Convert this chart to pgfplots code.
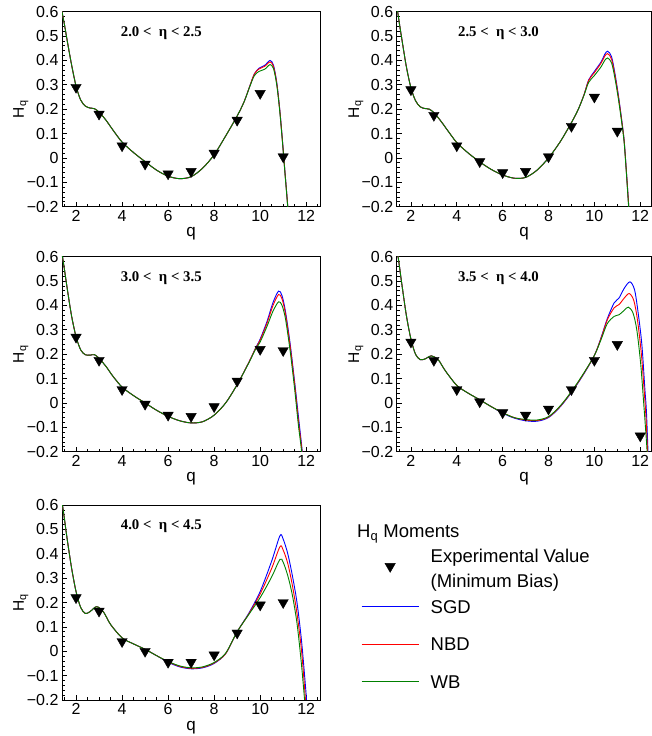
\documentclass[border=0pt]{standalone}
\usepackage{fontspec}
\setmainfont{Liberation Sans}
\newfontfamily\tnr{Liberation Serif}
\usepackage{pgfplots}
\pgfplotsset{compat=1.18}
\definecolor{sgd}{RGB}{0,0,255}
\definecolor{nbd}{RGB}{255,0,0}
\definecolor{wb}{RGB}{0,128,0}
\tikzset{ttl/.style={anchor=base west, inner sep=0pt, font=\tnr\bfseries\fontsize{14.8}{18}\selectfont}}
\pgfplotsset{
  panel/.style={
    scale only axis, width=258pt, height=195pt, anchor=south west,
    xmin=1.39, xmax=12.6, ymin=-0.2, ymax=0.6,
    xtick={2,4,6,8,10,12}, xticklabels={2,4,6,8,10,12},
    ytick={-0.2,-0.1,0,0.1,0.2,0.3,0.4,0.5,0.6},
    yticklabels={−0.2,−0.1,0,0.1,0.2,0.3,0.4,0.5,0.6},
    minor xtick={1.5,2.5,3,3.5,4.5,5,5.5,6.5,7,7.5,8.5,9,9.5,10.5,11,11.5,12.5},
    minor y tick num=4,
    xtick pos=left, ytick pos=left, tick align=inside,
    major tick length=5pt, minor tick length=3pt,
    every tick/.style={black, line width=0.7pt},
    axis line style={black, line width=0.9pt},
    tick label style={font=\fontsize{16}{18}\selectfont},
    xlabel={q}, ylabel={H\textsubscript{q}},
    every axis x label/.style={at={(axis description cs:0.5,-0.155)}, anchor=base, inner sep=0pt, font=\fontsize{17}{20}\selectfont},
    every axis y label/.style={at={(axis description cs:-0.16,0.5)}, anchor=center, rotate=90, inner sep=0pt, font=\fontsize{15.5}{18}\selectfont},
  },
  pr/.style={sgd, line width=0.9pt, smooth, no marks},
  pn/.style={nbd, line width=0.9pt, smooth, no marks},
  pw/.style={wb, line width=0.9pt, smooth, no marks},
  pe/.style={only marks, mark=triangle*, mark size=6pt, mark options={rotate=180, fill=black, draw=black}, black},
  lgtri/.style={legend image code/.code={\draw[black, fill=black] plot[mark=triangle*, mark size=6pt, mark options={rotate=180}] coordinates {(28.5pt,3pt)}; \path[draw=none] (0pt,0pt) -- (69pt,0pt);}},
  lgsgd/.style={legend image code/.code={\draw[sgd, line width=0.9pt] (0pt,0pt) -- (57pt,0pt); \path[draw=none] (0pt,0pt) -- (69pt,0pt);}},
  lgnbd/.style={legend image code/.code={\draw[nbd, line width=0.9pt] (0pt,0pt) -- (57pt,0pt); \path[draw=none] (0pt,0pt) -- (69pt,0pt);}},
  lgwb/.style={legend image code/.code={\draw[wb, line width=0.9pt] (0pt,0pt) -- (57pt,0pt); \path[draw=none] (0pt,0pt) -- (69pt,0pt);}},
}
\begin{document}
\begin{tikzpicture}[x=1pt,y=1pt]
\useasboundingbox (0,0) rectangle (652,736);
% ---------- Panel 1 ----------
\begin{axis}[panel, at={(62pt,529.3pt)}]
\addplot[pr] coordinates {(1.37,0.61) (1.5,0.545) (1.6,0.49) (1.8,0.385) (2.0,0.295) (2.2,0.238) (2.4,0.213) (2.6,0.205) (2.8,0.202) (3.0,0.188) (3.3,0.155) (3.6,0.115) (4.0,0.065) (4.5,0.022) (5.0,-0.015) (5.5,-0.05) (6.0,-0.075) (6.5,-0.085) (7.0,-0.077) (7.5,-0.042) (8.0,0.013) (8.5,0.09) (9.0,0.172) (9.3,0.23) (9.55,0.295) (9.75,0.345) (9.95,0.368) (10.2,0.38) (10.43,0.40) (10.58,0.38) (10.72,0.31) (10.85,0.2) (10.97,0.07) (11.08,-0.06) (11.2,-0.2) (11.28,-0.32)};
\addplot[pn] coordinates {(1.37,0.61) (1.5,0.545) (1.6,0.49) (1.8,0.385) (2.0,0.295) (2.2,0.238) (2.4,0.213) (2.6,0.205) (2.8,0.202) (3.0,0.188) (3.3,0.155) (3.6,0.115) (4.0,0.065) (4.5,0.022) (5.0,-0.015) (5.5,-0.05) (6.0,-0.075) (6.5,-0.085) (7.0,-0.077) (7.5,-0.042) (8.0,0.013) (8.5,0.09) (9.0,0.172) (9.3,0.23) (9.55,0.295) (9.75,0.345) (9.95,0.365) (10.2,0.376) (10.43,0.394) (10.58,0.375) (10.72,0.307) (10.85,0.198) (10.97,0.068) (11.08,-0.062) (11.2,-0.2) (11.28,-0.32)};
\addplot[pw] coordinates {(1.37,0.61) (1.5,0.545) (1.6,0.49) (1.8,0.385) (2.0,0.295) (2.2,0.238) (2.4,0.213) (2.6,0.205) (2.8,0.202) (3.0,0.188) (3.3,0.155) (3.6,0.115) (4.0,0.065) (4.5,0.022) (5.0,-0.015) (5.5,-0.05) (6.0,-0.075) (6.5,-0.085) (7.0,-0.077) (7.5,-0.042) (8.0,0.013) (8.5,0.09) (9.0,0.172) (9.3,0.23) (9.55,0.293) (9.75,0.338) (9.95,0.355) (10.2,0.364) (10.43,0.383) (10.58,0.366) (10.72,0.3) (10.85,0.192) (10.97,0.063) (11.08,-0.066) (11.2,-0.205) (11.28,-0.32)};
\addplot[pe] coordinates {(2,0.29) (3,0.18) (4,0.05) (5,-0.025) (6,-0.065) (7,-0.055) (8,0.02) (9,0.155) (10,0.265) (11,0.005)};
\node[ttl] at (rel axis cs:0.2275,0.875) {2.0 <\enspace η < 2.5};
\end{axis}
% ---------- Panel 2 ----------
\begin{axis}[panel, width=255pt, xmin=1.38, xmax=12.5, at={(396.7pt,529.3pt)}]
\addplot[pr] coordinates {(1.36,0.64) (1.5,0.55) (1.6,0.49) (1.8,0.375) (2.0,0.288) (2.2,0.235) (2.4,0.21) (2.6,0.203) (2.8,0.2) (3.0,0.186) (3.3,0.152) (3.6,0.113) (4.0,0.063) (4.5,0.02) (5.0,-0.016) (5.5,-0.047) (6.0,-0.07) (6.5,-0.083) (7.0,-0.08) (7.5,-0.05) (8.0,0.0) (8.5,0.065) (9.0,0.145) (9.3,0.2) (9.55,0.26) (9.75,0.32) (10.0,0.355) (10.3,0.395) (10.45,0.425) (10.58,0.438) (10.75,0.415) (10.9,0.345) (11.05,0.255) (11.2,0.15) (11.3,0.07) (11.4,-0.06) (11.5,-0.2) (11.58,-0.32)};
\addplot[pn] coordinates {(1.36,0.64) (1.5,0.55) (1.6,0.49) (1.8,0.375) (2.0,0.288) (2.2,0.235) (2.4,0.21) (2.6,0.203) (2.8,0.2) (3.0,0.186) (3.3,0.152) (3.6,0.113) (4.0,0.063) (4.5,0.02) (5.0,-0.016) (5.5,-0.047) (6.0,-0.07) (6.5,-0.083) (7.0,-0.08) (7.5,-0.05) (8.0,0.0) (8.5,0.065) (9.0,0.145) (9.3,0.2) (9.55,0.26) (9.75,0.318) (10.0,0.35) (10.3,0.39) (10.45,0.417) (10.58,0.428) (10.75,0.405) (10.9,0.338) (11.05,0.25) (11.2,0.147) (11.3,0.068) (11.4,-0.062) (11.5,-0.2) (11.58,-0.32)};
\addplot[pw] coordinates {(1.36,0.64) (1.5,0.55) (1.6,0.49) (1.8,0.375) (2.0,0.288) (2.2,0.235) (2.4,0.21) (2.6,0.203) (2.8,0.2) (3.0,0.186) (3.3,0.152) (3.6,0.113) (4.0,0.063) (4.5,0.02) (5.0,-0.016) (5.5,-0.047) (6.0,-0.07) (6.5,-0.083) (7.0,-0.08) (7.5,-0.05) (8.0,0.0) (8.5,0.065) (9.0,0.145) (9.3,0.2) (9.55,0.258) (9.75,0.31) (10.0,0.338) (10.3,0.375) (10.45,0.4) (10.58,0.41) (10.75,0.39) (10.9,0.325) (11.05,0.24) (11.2,0.14) (11.3,0.062) (11.4,-0.068) (11.5,-0.21) (11.58,-0.32)};
\addplot[pe] coordinates {(2,0.28) (3,0.175) (4,0.05) (5,-0.015) (6,-0.06) (7,-0.055) (8,0.005) (9,0.13) (10,0.25) (11,0.11)};
\node[ttl] at (rel axis cs:0.24,0.875) {2.5 <\enspace η < 3.0};
\end{axis}
% ---------- Panel 3 ----------
\begin{axis}[panel, at={(62pt,284.3pt)}]
\addplot[pr] coordinates {(1.38,0.62) (1.5,0.545) (1.6,0.48) (1.8,0.36) (2.0,0.272) (2.2,0.218) (2.4,0.198) (2.6,0.196) (2.8,0.198) (3.0,0.183) (3.3,0.15) (3.6,0.11) (4.0,0.065) (4.5,0.03) (5.0,0.0) (5.5,-0.03) (6.0,-0.055) (6.5,-0.073) (7.0,-0.082) (7.5,-0.077) (8.0,-0.05) (8.5,0.0) (9.0,0.075) (9.5,0.165) (9.8,0.225) (10.0,0.262) (10.3,0.335) (10.55,0.41) (10.8,0.459) (10.95,0.44) (11.1,0.375) (11.3,0.245) (11.5,0.085) (11.68,-0.07) (11.83,-0.2) (11.92,-0.32)};
\addplot[pn] coordinates {(1.38,0.62) (1.5,0.545) (1.6,0.48) (1.8,0.36) (2.0,0.272) (2.2,0.218) (2.4,0.198) (2.6,0.196) (2.8,0.198) (3.0,0.183) (3.3,0.15) (3.6,0.11) (4.0,0.065) (4.5,0.03) (5.0,0.0) (5.5,-0.03) (6.0,-0.055) (6.5,-0.073) (7.0,-0.082) (7.5,-0.077) (8.0,-0.05) (8.5,0.0) (9.0,0.075) (9.5,0.165) (9.8,0.224) (10.0,0.258) (10.3,0.328) (10.55,0.398) (10.8,0.445) (10.95,0.427) (11.1,0.365) (11.3,0.235) (11.5,0.075) (11.67,-0.08) (11.82,-0.2) (11.9,-0.32)};
\addplot[pw] coordinates {(1.38,0.62) (1.5,0.545) (1.6,0.48) (1.8,0.36) (2.0,0.272) (2.2,0.218) (2.4,0.198) (2.6,0.196) (2.8,0.198) (3.0,0.183) (3.3,0.15) (3.6,0.11) (4.0,0.065) (4.5,0.03) (5.0,0.0) (5.5,-0.03) (6.0,-0.055) (6.5,-0.073) (7.0,-0.082) (7.5,-0.077) (8.0,-0.05) (8.5,0.0) (9.0,0.075) (9.5,0.163) (9.8,0.22) (10.0,0.25) (10.3,0.315) (10.55,0.375) (10.8,0.415) (10.95,0.4) (11.1,0.345) (11.3,0.215) (11.5,0.055) (11.66,-0.09) (11.8,-0.2) (11.88,-0.32)};
\addplot[pe] coordinates {(2,0.27) (3,0.175) (4,0.055) (5,-0.005) (6,-0.05) (7,-0.055) (8,-0.015) (9,0.09) (10,0.22) (11,0.215)};
\node[ttl] at (rel axis cs:0.2275,0.875) {3.0 <\enspace η < 3.5};
\end{axis}
% ---------- Panel 4 ----------
\begin{axis}[panel, width=255pt, xmin=1.38, xmax=12.5, at={(396.7pt,284.3pt)}]
\addplot[pr] coordinates {(1.38,0.64) (1.5,0.56) (1.6,0.49) (1.8,0.36) (2.0,0.262) (2.2,0.2) (2.4,0.178) (2.6,0.18) (2.9,0.193) (3.2,0.176) (3.5,0.132) (4.0,0.072) (4.5,0.04) (5.0,0.013) (5.5,-0.015) (6.0,-0.042) (6.5,-0.062) (7.0,-0.073) (7.5,-0.075) (8.0,-0.06) (8.5,-0.017) (9.0,0.043) (9.5,0.113) (10.0,0.195) (10.3,0.27) (10.56,0.345) (10.86,0.41) (11.08,0.431) (11.3,0.47) (11.55,0.497) (11.75,0.465) (11.9,0.376) (12.07,0.24) (12.2,0.06) (12.27,-0.035) (12.34,-0.2) (12.42,-0.36)};
\addplot[pn] coordinates {(1.38,0.64) (1.5,0.56) (1.6,0.49) (1.8,0.36) (2.0,0.262) (2.2,0.2) (2.4,0.178) (2.6,0.18) (2.9,0.193) (3.2,0.176) (3.5,0.132) (4.0,0.072) (4.5,0.04) (5.0,0.013) (5.5,-0.015) (6.0,-0.04) (6.5,-0.06) (7.0,-0.07) (7.5,-0.072) (8.0,-0.058) (8.5,-0.015) (9.0,0.045) (9.5,0.115) (10.0,0.195) (10.3,0.268) (10.56,0.34) (10.86,0.39) (11.08,0.404) (11.3,0.43) (11.52,0.449) (11.72,0.42) (11.88,0.34) (12.05,0.2) (12.18,0.04) (12.25,-0.06) (12.32,-0.2) (12.4,-0.36)};
\addplot[pw] coordinates {(1.38,0.64) (1.5,0.56) (1.6,0.49) (1.8,0.36) (2.0,0.262) (2.2,0.2) (2.4,0.178) (2.6,0.18) (2.9,0.193) (3.2,0.176) (3.5,0.132) (4.0,0.072) (4.5,0.04) (5.0,0.013) (5.5,-0.015) (6.0,-0.04) (6.5,-0.06) (7.0,-0.068) (7.5,-0.07) (8.0,-0.056) (8.5,-0.013) (9.0,0.047) (9.5,0.117) (10.0,0.195) (10.3,0.262) (10.56,0.325) (10.86,0.355) (11.08,0.362) (11.3,0.38) (11.48,0.393) (11.68,0.37) (11.85,0.3) (12.02,0.16) (12.15,0.0) (12.22,-0.09) (12.3,-0.2) (12.38,-0.36)};
\addplot[pe] coordinates {(2,0.25) (3,0.175) (4,0.055) (5,0.005) (6,-0.04) (7,-0.05) (8,-0.025) (9,0.055) (10,0.175) (11,0.24) (12,-0.135)};
\node[ttl] at (rel axis cs:0.24,0.875) {3.5 <\enspace η < 4.0};
\end{axis}
% ---------- Panel 5 ----------
\begin{axis}[panel, at={(62pt,36pt)},
  legend style={at={(axis description cs:1.159,0.767)}, anchor=north west, draw=none, fill=none,
    font=\fontsize{18.5}{25.5}\selectfont, legend cell align=left, inner sep=0pt, row sep=0pt,
    nodes={inner sep=0pt, text height=25pt, text depth=12.5pt}},
]
\addlegendimage{lgtri}
\addlegendimage{lgsgd}
\addlegendimage{lgnbd}
\addlegendimage{lgwb}
\addplot[pr] coordinates {(1.38,0.62) (1.5,0.54) (1.6,0.47) (1.8,0.345) (2.0,0.245) (2.2,0.18) (2.4,0.155) (2.6,0.162) (2.9,0.183) (3.2,0.16) (3.5,0.11) (4.0,0.055) (4.5,0.03) (5.0,0.008) (5.5,-0.018) (6.0,-0.045) (6.5,-0.064) (7.0,-0.072) (7.5,-0.068) (8.0,-0.05) (8.5,-0.01) (9.0,0.08) (9.5,0.155) (10.0,0.245) (10.5,0.37) (10.86,0.474) (11.0,0.46) (11.2,0.40) (11.4,0.31) (11.6,0.2) (11.8,0.04) (12.0,-0.18) (12.1,-0.32)};
\addplot[pn] coordinates {(1.38,0.62) (1.5,0.54) (1.6,0.47) (1.8,0.345) (2.0,0.245) (2.2,0.18) (2.4,0.155) (2.6,0.162) (2.9,0.183) (3.2,0.16) (3.5,0.11) (4.0,0.055) (4.5,0.03) (5.0,0.008) (5.5,-0.018) (6.0,-0.043) (6.5,-0.062) (7.0,-0.07) (7.5,-0.066) (8.0,-0.048) (8.5,-0.01) (9.0,0.08) (9.5,0.152) (10.0,0.235) (10.5,0.34) (10.86,0.429) (11.0,0.415) (11.2,0.36) (11.4,0.27) (11.6,0.155) (11.8,0.0) (11.97,-0.2) (12.07,-0.33)};
\addplot[pw] coordinates {(1.38,0.62) (1.5,0.54) (1.6,0.47) (1.8,0.345) (2.0,0.245) (2.2,0.18) (2.4,0.155) (2.6,0.162) (2.9,0.183) (3.2,0.16) (3.5,0.11) (4.0,0.055) (4.5,0.03) (5.0,0.008) (5.5,-0.018) (6.0,-0.042) (6.5,-0.06) (7.0,-0.068) (7.5,-0.064) (8.0,-0.046) (8.5,-0.008) (9.0,0.08) (9.5,0.15) (10.0,0.22) (10.5,0.305) (10.86,0.377) (11.0,0.365) (11.2,0.31) (11.4,0.23) (11.6,0.115) (11.78,-0.04) (11.93,-0.2) (12.03,-0.33)};
\addplot[pe] coordinates {(2,0.22) (3,0.165) (4,0.04) (5,0.0) (6,-0.045) (7,-0.045) (8,-0.015) (9,0.075) (10,0.19) (11,0.2)};
\legend{{\raisebox{1.5pt}{\begin{tabular}{@{}l@{}}Experimental Value\\(Minimum Bias)\end{tabular}}},SGD,NBD,WB}
\node[ttl] at (rel axis cs:0.2275,0.872) {4.0 <\enspace η < 4.5};
\end{axis}
\node[anchor=base west, inner sep=0pt, font=\fontsize{18.5}{22}\selectfont] at (357,198) {H\textsubscript{q} Moments};
\end{tikzpicture}
\end{document}
